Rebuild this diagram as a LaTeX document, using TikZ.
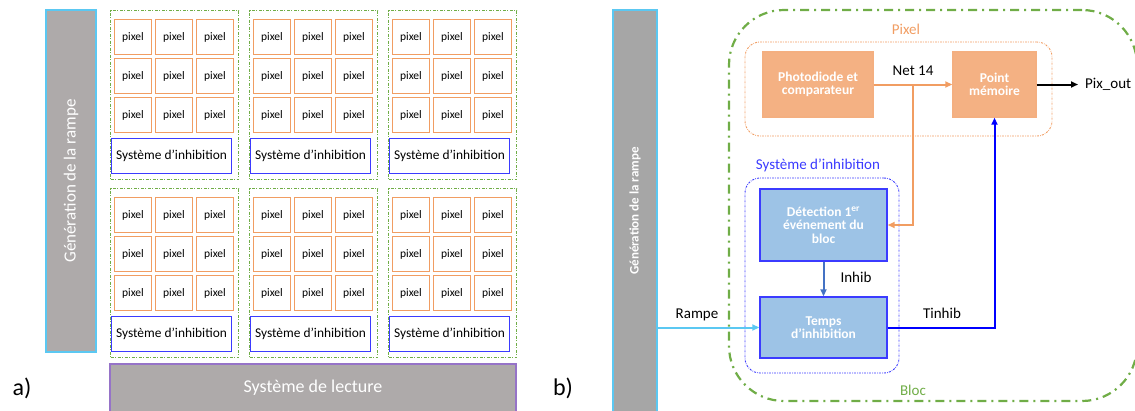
\documentclass[tikz,border=0pt]{standalone}
\usepackage{fontspec}
\setmainfont{Carlito}
\usetikzlibrary{arrows.meta, positioning, calc}
\definecolor{pxorange}{HTML}{F19D62}
\definecolor{pxfill}{HTML}{F4B183}
\definecolor{inhblue}{HTML}{3B3BFF}
\definecolor{inhfill}{HTML}{9DC3E6}
\definecolor{steelblue}{HTML}{4472C4}
\definecolor{blocgreen}{HTML}{70AD47}
\definecolor{rampcyan}{HTML}{5BC8F2}
\definecolor{bargray}{HTML}{AEAAAA}
\definecolor{bargraydk}{HTML}{A6A6A6}
\definecolor{readviolet}{HTML}{9673C8}
\newcommand{\fsz}[1]{\fontsize{#1}{#1}\selectfont}
\tikzset{
  arr/.style={-{Triangle[length=7pt, width=6pt]}, line width=2pt},
  cellbox/.style={rectangle, draw=pxorange, line width=1.6pt, fill=white, minimum width=37pt, minimum height=35pt, inner sep=0pt, font=\fsz{11.5}},
  inhbox/.style={rectangle, draw=inhblue, line width=1.6pt, fill=white, minimum width=120pt, minimum height=35pt, inner sep=0pt, font=\fsz{13.4}},
  blocframe/.style={rectangle, draw=blocgreen, line width=1.1pt, dash pattern=on 3pt off 1.5pt on 1pt off 1.5pt, minimum width=128pt, minimum height=169pt, anchor=north west, inner sep=0pt},
  rampbar/.style={rectangle, draw=rampcyan, line width=1.5pt, text=white, inner sep=0pt, rotate=90},
  stagebox/.style={rectangle, line width=1.4pt, text=white, align=center, inner sep=0pt, font=\bfseries\fsz{13.5}},
  lbl/.style={inner sep=0pt, font=\fsz{15}},
}
\begin{document}
\begin{tikzpicture}[x=1pt, y=-1pt]
  \useasboundingbox (0,0) rectangle (1135,410);

  % a) array of blocs
  \node[rampbar, fill=bargray, minimum width=342pt, minimum height=50pt, font=\fsz{17}] (rampA) at (71,181) {Génération de la rampe};
  \foreach \c/\bx in {1/110,2/249,3/388} {
    \foreach \r/\by in {1/10,2/188} {
      \node[blocframe] (bloc-\c-\r) at (\bx,\by) {};
      \foreach \i in {0,1,2} {
        \foreach \j in {0,1,2} {
          \node[cellbox] (px-\c-\r-\i\j) at ({\bx+23+41*\i},{\by+27+39*\j}) {pixel};
        }
      }
      \node[inhbox] (inh-\c-\r) at ({\bx+61.5},{\by+146}) {Système d’inhibition};
    }
  }
  \node[rectangle, draw=readviolet, line width=1.5pt, fill=bargray, minimum width=406pt, minimum height=48pt, text=white, font=\fsz{18}] (reading) at (313,388) {Système de lecture};
  \node[font=\fsz{24}, inner sep=0pt] (tagA) at (22,388) {a)};

  % b) one bloc
  \node[font=\fsz{24}, inner sep=0pt] (tagB) at (563,388) {b)};
  \node[rampbar, fill=bargraydk, minimum width=405pt, minimum height=44pt] (rampB) at (635,212.5) {};
  \node[rotate=90, text=white, font=\bfseries\fsz{13}, inner sep=0pt] (rampBtxt) at (635,211) {Génération de la rampe};

  \node[rectangle, draw=blocgreen, line width=2.2pt, rounded corners=55pt, dash pattern=on 9pt off 5pt on 2pt off 5pt, minimum width=408pt, minimum height=391pt] (bloc) at (933,205.5) {};
  \node[lbl, text=blocgreen] (blocLbl) at (913,390) {Bloc};

  \node[rectangle, draw=pxorange, line width=0.9pt, rounded corners=15pt, dash pattern=on 2pt off 1.2pt on 0.6pt off 1.2pt, minimum width=307pt, minimum height=94pt] (pixframe) at (898.5,89) {};
  \node[lbl, text=pxorange] (pixLbl) at (906,29) {Pixel};
  \node[stagebox, fill=pxfill, draw=pxfill!90!pxorange, minimum width=110pt, minimum height=65pt] (photo) at (818,84.5) {Photodiode et\\comparateur};
  \node[stagebox, fill=pxfill, draw=pxfill!90!pxorange, minimum width=83pt, minimum height=65pt] (mem) at (994.5,84.5) {Point\\mémoire};

  \node[rectangle, draw=inhblue, line width=0.9pt, rounded corners=15pt, dash pattern=on 2pt off 1.2pt on 0.6pt off 1.2pt, minimum width=154pt, minimum height=195pt] (inhframe) at (822,275.5) {};
  \node[lbl, text=inhblue] (inhLbl) at (818,165) {Système d’inhibition};
  \node[stagebox, fill=inhfill, draw=inhblue, minimum width=127pt, minimum height=72pt] (detect) at (823.5,225) {Détection 1\textsuperscript{er}\\événement du\\bloc};
  \node[stagebox, fill=inhfill, draw=inhblue, minimum width=127pt, minimum height=61pt] (temps) at (823.5,327.5) {Temps\\d’inhibition};

  \coordinate (split) at (913,84.5);
  \coordinate (pixout) at (1078,84.5);
  \draw[arr, draw=pxorange, -{Triangle[length=7pt, width=6pt, fill=pxorange]}] (photo) -- (mem);
  \draw[arr, draw=pxorange, -{Triangle[length=7pt, width=6pt, fill=pxorange]}] (split) |- (detect.east);
  \draw[arr, draw=black] (mem) -- (pixout);
  \draw[arr, draw=steelblue] (detect) -- (temps);
  \draw[arr, draw=rampcyan] (rampB.south |- temps.west) -- (temps.west);
  \draw[arr, draw=blue] (temps.east) -| (mem.south);

  \node[lbl] (netLbl) at (913,71) {Net 14};
  \node[lbl, anchor=west] (outLbl) at (1085,84.5) {Pix\_out};
  \node[lbl] (inhibLbl) at (856,277) {Inhib};
  \node[lbl] (rampeLbl) at (697,315) {Rampe};
  \node[lbl] (tinhLbl) at (942,313) {Tinhib};
\end{tikzpicture}
\end{document}
